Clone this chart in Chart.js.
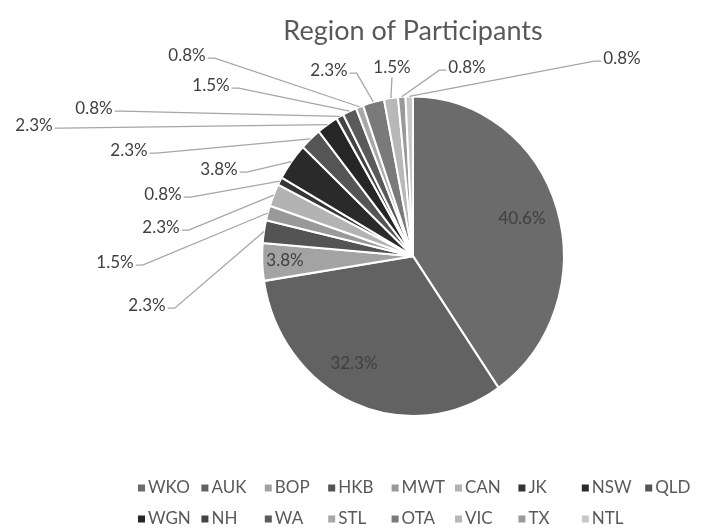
<!DOCTYPE html>
<html>
<head>
<meta charset="utf-8">
<script src="https://cdn.jsdelivr.net/npm/chart.js@4.4.1/dist/chart.umd.min.js"></script>
<style>
  html, body { margin: 0; padding: 0; background: #ffffff; }
  #wrap { width: 707px; height: 531px; }
</style>
</head>
<body>
<div id="wrap"><canvas id="c" width="707" height="531"></canvas></div>
<script>
// ---- data ----
const categories = ['WKO','AUK','BOP','HKB','MWT','CAN','JK','NSW','QLD','WGN','NH','WA','STL','OTA','VIC','TX','NTL'];
const percentValues = [40.6, 32.3, 3.8, 2.3, 1.5, 2.3, 0.8, 3.8, 2.3, 2.3, 0.8, 1.5, 0.8, 2.3, 1.5, 0.8, 0.8];
const chartTitle = 'Region of Participants';

// ---- styles / layout (not data) ----
const sliceColors = ['#6b6b6b','#626262','#a3a3a3','#545454','#999999','#b3b3b3','#353535','#2a2a2a',
                     '#555555','#262626','#444444','#5a5a5a','#a8a8a8','#7a7a7a','#b8b8b8','#9a9a9a','#c8c8c8'];
// label centre offsets from the pie centre (px), Excel "best fit" placement
const labelOffsets = [[109,-38],[-59,107],[-128,4],[-266,49],[-298,6],[-252,-29],[-250,-62],[-194,-87],
                      [-284,-106],[-379,-131],[-319,-148],[-202,-171],[-226,-201],[-84,-186],[-21,-189],[54,-189],[209,-198]];
const FONT = 'Lato, "Open Sans", sans-serif';
const PIE_STRETCH_Y = 1.06; // the reference pie is slightly taller than wide

const piePlugin = {
  id: 'pieStretchAndLabels',
  beforeDatasetsDraw(chart) {
    const arc = chart.getDatasetMeta(0).data[0];
    const ctx = chart.ctx;
    ctx.save();
    ctx.translate(arc.x, arc.y);
    ctx.scale(1, PIE_STRETCH_Y);
    ctx.translate(-arc.x, -arc.y);
  },
  afterDatasetsDraw(chart) {
    const ctx = chart.ctx;
    ctx.restore();
    const meta = chart.getDatasetMeta(0);
    ctx.save();
    ctx.font = '17px ' + FONT;
    ctx.textAlign = 'center';
    ctx.textBaseline = 'middle';
    meta.data.forEach((arc, i) => {
      const p = arc.getProps(['x','y','startAngle','endAngle','outerRadius'], true);
      const txt = chart.data.datasets[0].data[i].toFixed(1) + '%';
      const lx = p.x + labelOffsets[i][0];
      const ly = p.y + labelOffsets[i][1];
      const dist = Math.hypot(labelOffsets[i][0], labelOffsets[i][1] / PIE_STRETCH_Y);
      if (dist > p.outerRadius) {
        const mid = (p.startAngle + p.endAngle) / 2;
        const ax = p.x + Math.cos(mid) * p.outerRadius;
        const ay = p.y + Math.sin(mid) * p.outerRadius * PIE_STRETCH_Y;
        const w = ctx.measureText(txt).width;
        const left = lx - w / 2, right = lx + w / 2;
        ctx.strokeStyle = '#a6a6a6';
        ctx.lineWidth = 1.3;
        ctx.beginPath();
        if (ax > right + 4) {
          ctx.moveTo(right + 2, ly + 3);
          ctx.lineTo(right + 9, ly + 3);
        } else if (ax < left - 4) {
          ctx.moveTo(left - 2, ly + 3);
          ctx.lineTo(left - 9, ly + 3);
        } else {
          ctx.moveTo(lx, ly + 10);
        }
        ctx.lineTo(ax, ay);
        ctx.stroke();
      }
      ctx.fillStyle = '#404040';
      ctx.fillText(txt, lx, ly);
    });
    ctx.restore();
  }
};

const legendPlugin = {
  id: 'gridLegend',
  afterDraw(chart) {
    const ctx = chart.ctx;
    const labels = chart.data.labels;
    const colors = chart.data.datasets[0].backgroundColor;
    const perRow = 9, x0 = 138, step = 63.4, rowY = [488, 519], box = 7;
    ctx.save();
    ctx.font = '17px ' + FONT;
    ctx.textAlign = 'left';
    ctx.textBaseline = 'middle';
    labels.forEach((lab, i) => {
      const r = Math.floor(i / perRow), c = i % perRow;
      const x = x0 + c * step, y = rowY[r];
      ctx.fillStyle = colors[i];
      ctx.fillRect(x, y - box / 2, box, box);
      ctx.fillStyle = '#595959';
      ctx.fillText(lab, x + box + 3, y);
    });
    ctx.restore();
  }
};

new Chart(document.getElementById('c'), {
  type: 'pie',
  data: {
    labels: categories,
    datasets: [{
      data: percentValues,
      backgroundColor: sliceColors,
      borderColor: '#ffffff',
      borderWidth: 2
    }]
  },
  options: {
    responsive: false,
    animation: false,
    devicePixelRatio: 1,
    layout: { padding: { left: 261, right: 142, top: 0, bottom: 123 } },
    plugins: {
      legend: { display: false },
      tooltip: { enabled: false },
      title: {
        display: true,
        text: chartTitle,
        color: '#595959',
        font: { family: FONT, size: 27, weight: 'normal', lineHeight: 1.2 },
        padding: { top: 15, bottom: 57 }
      }
    }
  },
  plugins: [piePlugin, legendPlugin]
});
</script>
</body>
</html>
